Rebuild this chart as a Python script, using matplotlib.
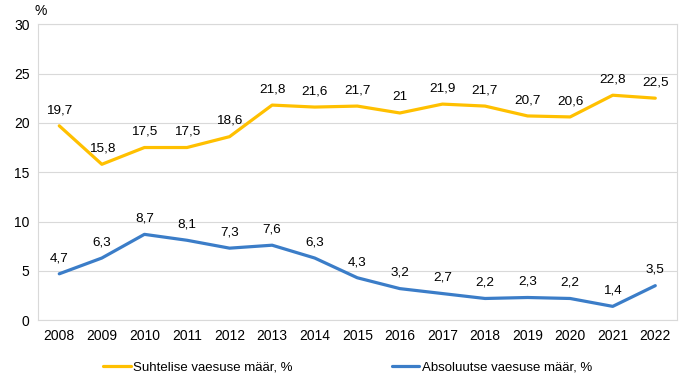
import matplotlib.pyplot as plt

plt.rcParams['font.family'] = ['Liberation Sans', 'DejaVu Sans']

years = [str(y) for y in range(2008, 2023)]
relative = [19.7, 15.8, 17.5, 17.5, 18.6, 21.8, 21.6, 21.7, 21.0, 21.9, 21.7, 20.7, 20.6, 22.8, 22.5]
absolute = [4.7, 6.3, 8.7, 8.1, 7.3, 7.6, 6.3, 4.3, 3.2, 2.7, 2.2, 2.3, 2.2, 1.4, 3.5]
yellow = '#FFC000'
blue = '#3B7DC8'
grid = '#D9D9D9'


def fmt(v):
    return '{:g}'.format(v).replace('.', ',')


fig = plt.figure(figsize=(6.83, 3.9), dpi=100)
ax = fig.add_axes([0.0556, 0.179, 0.935, 0.759])
x = list(range(len(years)))

ax.plot(x, relative, color=yellow, lw=2.3, label='Suhtelise vaesuse määr, %', solid_capstyle='round')
ax.plot(x, absolute, color=blue, lw=2.3, label='Absoluutse vaesuse määr, %', solid_capstyle='round')

for series in (relative, absolute):
    for xi, v in zip(x, series):
        ax.annotate(fmt(v), (xi, v), xytext=(0, 7), textcoords='offset points',
                    ha='center', va='bottom', fontsize=9.7)

ax.set_xlim(-0.5, len(years) - 0.5)
ax.set_ylim(0, 30)
ax.set_yticks(range(0, 31, 5))
ax.set_xticks(x)
ax.set_xticklabels(years)
ax.tick_params(length=0, labelsize=10, pad=6)
ax.grid(axis='y', color=grid, lw=0.8)
ax.set_axisbelow(True)
for s in ax.spines.values():
    s.set_color(grid)
    s.set_linewidth(0.8)

fig.text(0.051, 0.955, '%', fontsize=10, ha='left', va='bottom')

fig.legend(loc='center', bbox_to_anchor=(0.509, 0.058), ncol=2, frameon=False,
           fontsize=9.5, handlelength=2.1, handletextpad=0.2, columnspacing=7.5)

fig.savefig('out.png', dpi=100)
